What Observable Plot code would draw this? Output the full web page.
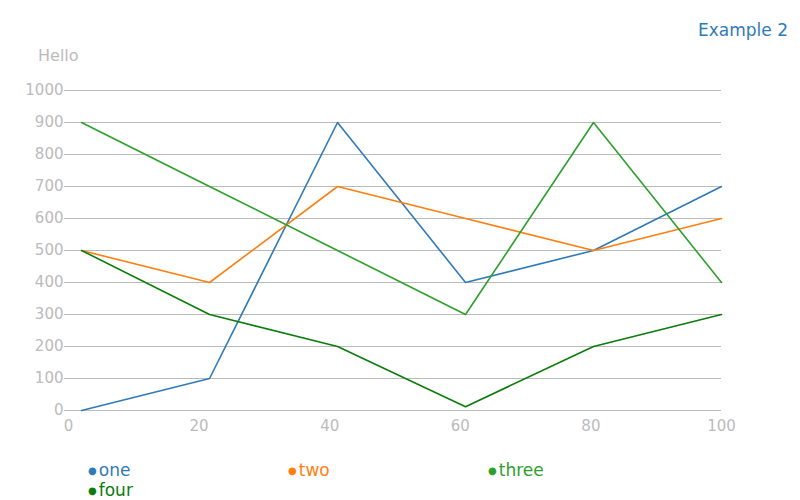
<!DOCTYPE html>
<html><head><meta charset="utf-8">
<script src="https://cdn.jsdelivr.net/npm/d3@7"></script>
<script src="https://cdn.jsdelivr.net/npm/@observablehq/plot@0.6"></script>
<style>
body{margin:0;font-family:"DejaVu Sans",sans-serif;background:#fff}
#wrap{position:relative;width:800px;height:500px}
#title{position:absolute;right:12px;top:20px;color:#2f7ab9;font-size:17px}
#ylab{position:absolute;left:38px;top:46px;color:#bbb;font-size:16px}
.lg{position:absolute;font-size:17px}
</style></head><body>
<div id="wrap"><div id="title">Example 2</div><div id="ylab">Hello</div><div id="chart"></div></div>
<script>
const xs = [2, 21.6, 41.2, 60.8, 80.4, 100]
const names = ['one', 'two', 'three', 'four']
const colors = ['#2f7ab9', '#ff7f0e', '#2ca02c', '#0a7d0a']
const one = [0, 100, 900, 400, 500, 700]
const two = [500, 400, 700, 600, 500, 600]
const three = [900, 700, 500, 300, 900, 400]
const four = [500, 300, 200, 12, 200, 300]
const series = [one, two, three, four]

const data = series.flatMap((s, i) => s.map((v, j) => ({x: xs[j], y: v, name: names[i]})))

let chart = Plot.plot({
  width: 800, height: 500,
  marginTop: 90, marginBottom: 90, marginLeft: 68, marginRight: 79,
  style: {fontFamily: 'DejaVu Sans', fontSize: '15px', color: '#bbb'},
  x: {domain: [0, 100], ticks: [0, 20, 40, 60, 80, 100], tickFormat: 'd', label: null, tickSize: 0, tickPadding: 10},
  y: {domain: [0, 1000], ticks: d3.range(0, 1001, 100), tickFormat: 'd', label: null, tickSize: 4, tickPadding: 1},
  color: {domain: names, range: colors},
  marks: [
    Plot.gridY({stroke: '#bbb', strokeOpacity: 1}),
    Plot.ruleY([0], {stroke: '#bbb'}),
    Plot.line(data, {x: 'x', y: 'y', stroke: 'name', strokeWidth: 1.6})
  ]
})
d3.select('#chart').append(() => chart)

const pos = [[88, 460], [288, 460], [488, 460], [88, 480]]
names.forEach((n, i) => {
  d3.select('#wrap').append('div').attr('class', 'lg')
    .style('left', pos[i][0] + 'px').style('top', pos[i][1] + 'px').style('color', colors[i])
    .html('<span style="font-size:10px;vertical-align:2px;margin-right:2px">●</span>' + n)
})
</script></body></html>
